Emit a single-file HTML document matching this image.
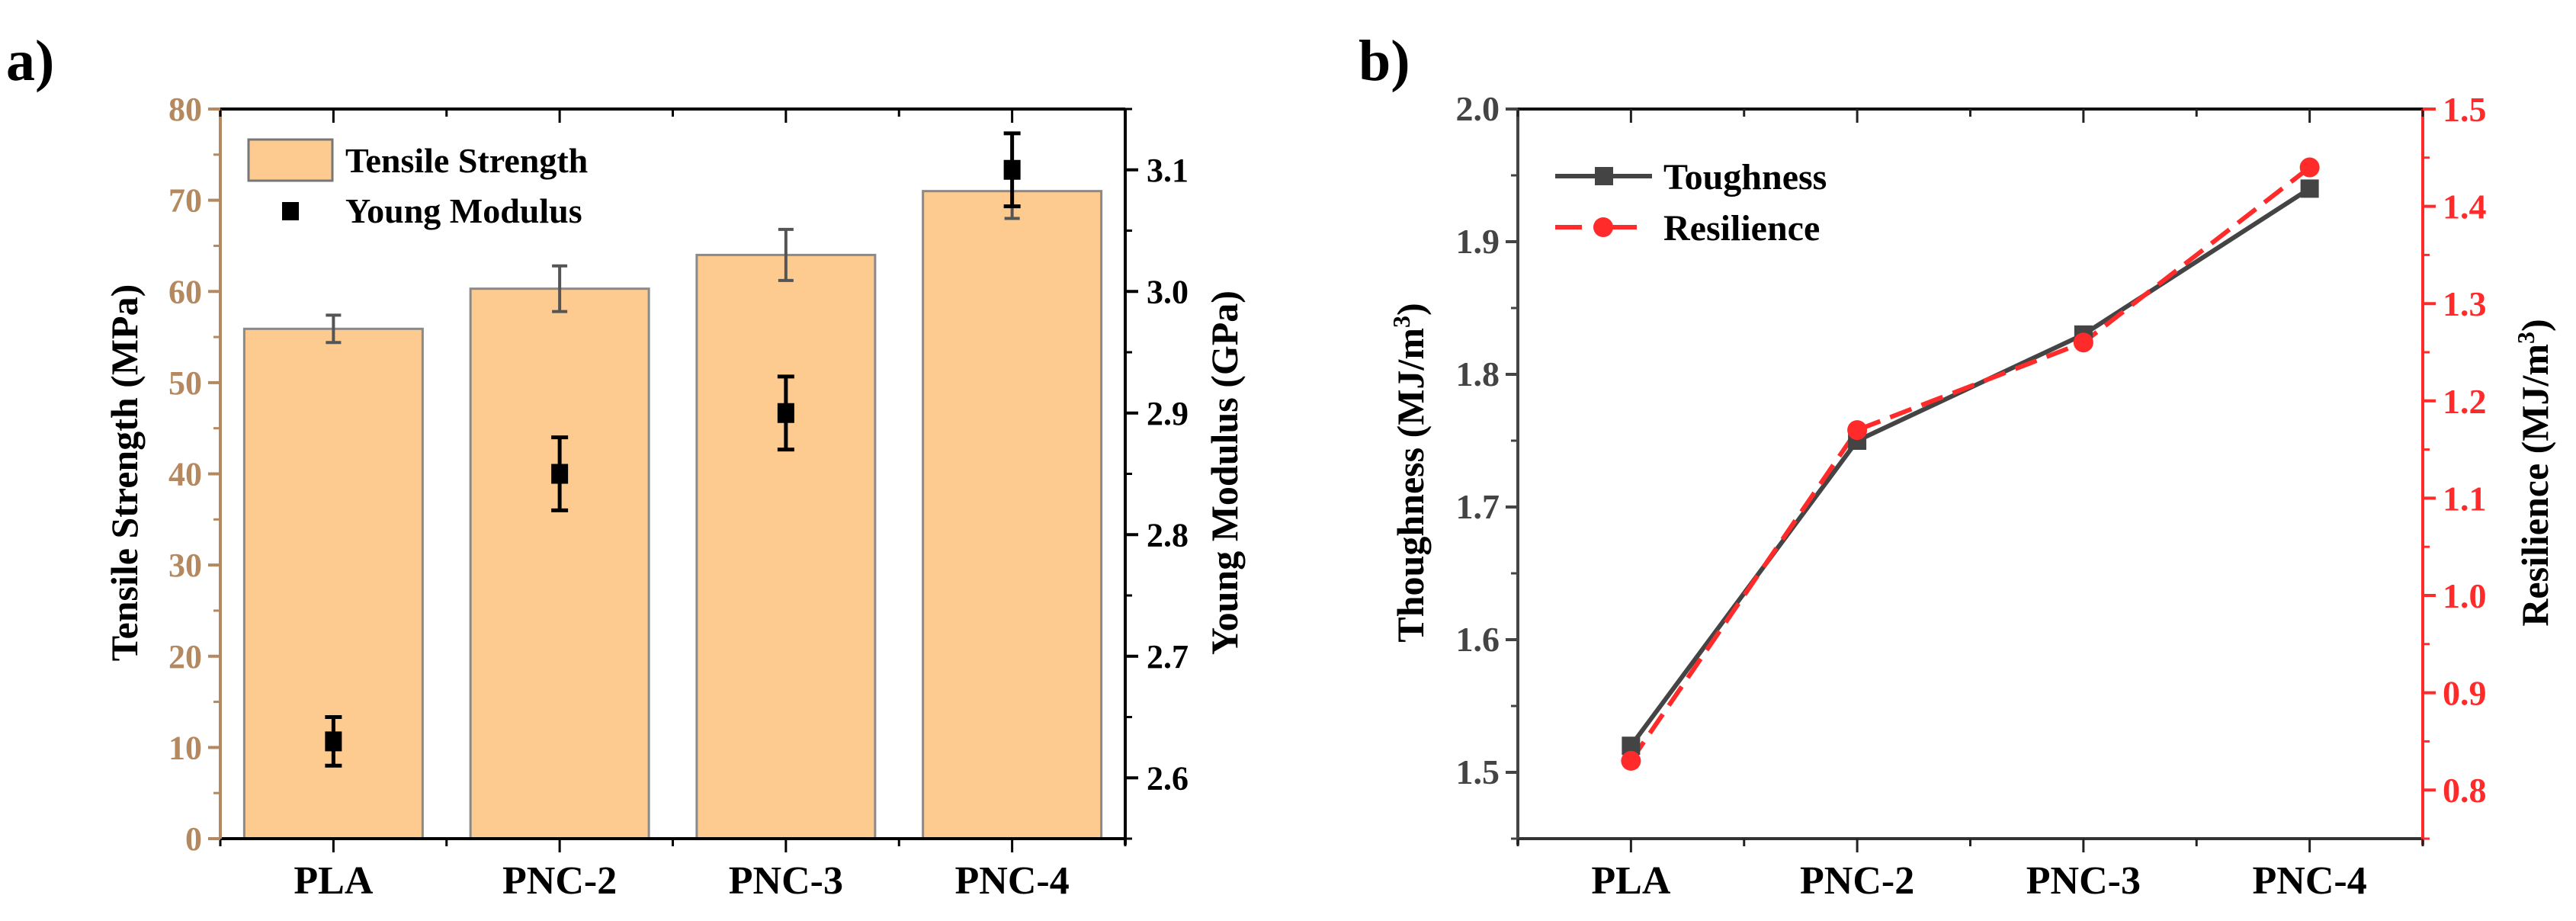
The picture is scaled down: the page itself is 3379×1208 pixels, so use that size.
<!DOCTYPE html>
<html><head><meta charset="utf-8"><style>
html,body{margin:0;padding:0;background:#fff;}
svg{display:block;}
svg text{font-family:"Liberation Serif","DejaVu Serif",serif;font-weight:bold;}
</style></head><body>
<svg id="fig" width="3379" height="1208" viewBox="0 0 3379 1208" xmlns="http://www.w3.org/2000/svg" font-family="'Liberation Serif', 'DejaVu Serif', serif" font-weight="bold">
<text x="8" y="105" font-size="76">a)</text>
<text x="1782" y="105" font-size="76">b)</text>
<g id="pa"></g>
<g id="pb"></g>
</svg>
<script>
const categories = ["PLA","PNC-2","PNC-3","PNC-4"];
const tensile = [55.9, 60.3, 64.0, 71.0];
const tensileErr = [1.5, 2.5, 2.8, 3.0];
const modulus = [2.63, 2.85, 2.90, 3.10];
const modulusErr = [0.02, 0.03, 0.03, 0.03];
const tensileTicks = [0,10,20,30,40,50,60,70,80];
const modulusTicks = ["2.6","2.7","2.8","2.9","3.0","3.1"];
const toughness = [1.52, 1.75, 1.83, 1.94];
const resilience = [0.83, 1.17, 1.26, 1.44];
const toughTicks = ["1.5","1.6","1.7","1.8","1.9","2.0"];
const resilTicks = ["0.8","0.9","1.0","1.1","1.2","1.3","1.4","1.5"];

const NS="http://www.w3.org/2000/svg";
function mk(parent,tag,attrs,text){const e=document.createElementNS(NS,tag);for(const k in attrs)e.setAttribute(k,attrs[k]);if(text!==undefined)e.textContent=text;parent.appendChild(e);return e;}

const TOP=143,BOT=1100;
// ---------- Panel A ----------
const pa=document.getElementById('pa');
const aL=289,aR=1476;
const ax=i=>aL+(i+0.5)*(aR-aL)/4;
const ayL=v=>BOT-(v-0)/80*(BOT-TOP);
const ayR=v=>BOT-(v-2.55)/0.6*(BOT-TOP);
const tan="#b5895f";
const bw=234;
categories.forEach((c,i)=>{
  const r=mk(pa,'rect',{x:ax(i)-bw/2,y:ayL(tensile[i]),width:bw,height:BOT-ayL(tensile[i]),fill:"#fdca90",stroke:"#8a8a8a","stroke-width":3});
  
  
  const g=mk(pa,'g',{stroke:"#555","stroke-width":4});
  
  
  const y1=ayL(tensile[i]-tensileErr[i]),y2=ayL(tensile[i]+tensileErr[i]);
  mk(g,'line',{x1:ax(i),x2:ax(i),y1:y1,y2:y2});
  mk(g,'line',{x1:ax(i)-10,x2:ax(i)+10,y1:y1,y2:y1});
  mk(g,'line',{x1:ax(i)-10,x2:ax(i)+10,y1:y2,y2:y2});
});
categories.forEach((c,i)=>{
  const g=mk(pa,'g',{stroke:"#000","stroke-width":5});
  
  
  const y1=ayR(modulus[i]-modulusErr[i]),y2=ayR(modulus[i]+modulusErr[i]);
  mk(g,'line',{x1:ax(i),x2:ax(i),y1:y1,y2:y2});
  mk(g,'line',{x1:ax(i)-11,x2:ax(i)+11,y1:y1,y2:y1});
  mk(g,'line',{x1:ax(i)-11,x2:ax(i)+11,y1:y2,y2:y2});
  const s=mk(pa,'rect',{x:ax(i)-11,y:ayR(modulus[i])-13,width:22,height:26,fill:"#000"});
  
  
});
// axes A
mk(pa,'line',{x1:aL,x2:aR,y1:TOP,y2:TOP,stroke:"#000","stroke-width":4});
mk(pa,'line',{x1:aL,x2:aR,y1:BOT,y2:BOT,stroke:"#000","stroke-width":4});
mk(pa,'line',{x1:aR,x2:aR,y1:TOP,y2:BOT+8,stroke:"#000","stroke-width":4});
mk(pa,'line',{x1:aL,x2:aL,y1:TOP,y2:BOT,stroke:tan,"stroke-width":4});
for(let k=0;k<=8;k++){const x=aL+k*(aR-aL)/8;const maj=k%2===1;
  mk(pa,'line',{x1:x,x2:x,y1:BOT,y2:BOT+(maj?18:10),stroke:"#000","stroke-width":3});
  mk(pa,'line',{x1:x,x2:x,y1:TOP,y2:TOP+(maj?18:10),stroke:"#000","stroke-width":3});}
tensileTicks.forEach((v,i)=>{const y=ayL(v);
  mk(pa,'line',{x1:aL-16,x2:aL,y1:y,y2:y,stroke:tan,"stroke-width":4});
  if(i<tensileTicks.length-1)mk(pa,'line',{x1:aL-9,x2:aL,y1:ayL(v+5),y2:ayL(v+5),stroke:tan,"stroke-width":3});
  const t=mk(pa,'text',{x:aL-24,y:y+15,"font-size":44,fill:tan,"text-anchor":"end"},String(v));
  
  
});
modulusTicks.forEach(s=>{const v=parseFloat(s),y=ayR(v);
  mk(pa,'line',{x1:aR,x2:aR+17,y1:y,y2:y,stroke:"#000","stroke-width":4});
  mk(pa,'line',{x1:aR,x2:aR+9,y1:ayR(v-0.05),y2:ayR(v-0.05),stroke:"#000","stroke-width":3});
  const t=mk(pa,'text',{x:aR+28,y:y+15,"font-size":44,fill:"#000"},s);
  
  
});
mk(pa,'line',{x1:aR,x2:aR+9,y1:ayR(3.15),y2:ayR(3.15),stroke:"#000","stroke-width":3});
categories.forEach((c,i)=>{const t=mk(pa,'text',{x:ax(i),y:1172,"font-size":52,"text-anchor":"middle"},c);
  
  });
let t;
t=mk(pa,'text',{x:0,y:0,"font-size":50,"text-anchor":"middle",transform:"translate(180,620) rotate(-90)"},"Tensile Strength (MPa)");

t=mk(pa,'text',{x:0,y:0,"font-size":50,"text-anchor":"middle",transform:"translate(1623,620) rotate(-90)"},"Young Modulus (GPa)");

// legend A
const la=mk(pa,'g',{});

mk(la,'rect',{x:326,y:183,width:110,height:54,fill:"#fdca90",stroke:"#777","stroke-width":3});
mk(la,'text',{x:453,y:226,"font-size":46},"Tensile Strength");
mk(la,'rect',{x:370,y:265,width:22,height:24,fill:"#000"});
mk(la,'text',{x:453,y:292,"font-size":46},"Young Modulus");

// ---------- Panel B ----------
const pb=document.getElementById('pb');
const bL=1991,bR=3178;
const bx=i=>bL+(i+0.5)*(bR-bL)/4;
const byL=v=>BOT-(v-1.45)/0.55*(BOT-TOP);
const byR=v=>BOT-(v-0.75)/0.75*(BOT-TOP);
const red="#ff2a2a";
mk(pb,'line',{x1:bL,x2:bR,y1:TOP,y2:TOP,stroke:"#111","stroke-width":4});
mk(pb,'line',{x1:bL,x2:bR,y1:BOT,y2:BOT,stroke:"#333","stroke-width":4});
mk(pb,'line',{x1:bL,x2:bL,y1:TOP,y2:BOT+8,stroke:"#444","stroke-width":4});
mk(pb,'line',{x1:bR,x2:bR,y1:TOP,y2:BOT+8,stroke:red,"stroke-width":4});
for(let k=0;k<=8;k++){const x=bL+k*(bR-bL)/8;const maj=k%2===1;
  mk(pb,'line',{x1:x,x2:x,y1:BOT,y2:BOT+(maj?18:10),stroke:"#222","stroke-width":3});
  mk(pb,'line',{x1:x,x2:x,y1:TOP,y2:TOP+(maj?18:10),stroke:"#222","stroke-width":3});}
toughTicks.forEach(s=>{const v=parseFloat(s),y=byL(v);
  mk(pb,'line',{x1:bL-16,x2:bL,y1:y,y2:y,stroke:"#444","stroke-width":4});
  mk(pb,'line',{x1:bL-9,x2:bL,y1:byL(v-0.05),y2:byL(v-0.05),stroke:"#444","stroke-width":3});
  const t=mk(pb,'text',{x:bL-24,y:y+15,"font-size":46,fill:"#444","text-anchor":"end"},s);
  });
resilTicks.forEach(s=>{const v=parseFloat(s),y=byR(v);
  mk(pb,'line',{x1:bR,x2:bR+17,y1:y,y2:y,stroke:red,"stroke-width":4});
  mk(pb,'line',{x1:bR,x2:bR+9,y1:byR(v-0.05),y2:byR(v-0.05),stroke:red,"stroke-width":3});
  const t=mk(pb,'text',{x:bR+26,y:y+16,"font-size":46,fill:red},s);
  });
categories.forEach((c,i)=>{const t=mk(pb,'text',{x:bx(i),y:1172,"font-size":52,"text-anchor":"middle"},c);
  });
t=mk(pb,'text',{x:0,y:0,"font-size":50,"text-anchor":"middle",transform:"translate(1867,620) rotate(-90)"});

t.innerHTML='Thoughness (MJ/m<tspan dy="-18" font-size="32">3</tspan><tspan dy="18">)</tspan>';
t=mk(pb,'text',{x:0,y:0,"font-size":50,"text-anchor":"middle",transform:"translate(3342,620) rotate(-90)"});

t.innerHTML='Resilience (MJ/m<tspan dy="-18" font-size="32">3</tspan><tspan dy="18">)</tspan>';
// series
const tl=mk(pb,'polyline',{points:toughness.map((v,i)=>bx(i)+','+byL(v)).join(' '),fill:"none",stroke:"#444","stroke-width":6});

const rl=mk(pb,'polyline',{points:resilience.map((v,i)=>bx(i)+','+byR(v)).join(' '),fill:"none",stroke:red,"stroke-width":6,"stroke-dasharray":"30 14"});

toughness.forEach((v,i)=>{const s=mk(pb,'rect',{x:bx(i)-12,y:byL(v)-12,width:24,height:24,fill:"#444"});
  });
resilience.forEach((v,i)=>{const s=mk(pb,'circle',{cx:bx(i),cy:byR(v),r:13,fill:red});
  });
// legend B
const lb=mk(pb,'g',{});

mk(lb,'line',{x1:2040,x2:2167,y1:231,y2:231,stroke:"#444","stroke-width":6});
mk(lb,'rect',{x:2092,y:219,width:24,height:24,fill:"#444"});
mk(lb,'text',{x:2182,y:248,"font-size":48},"Toughness");
mk(lb,'line',{x1:2040,x2:2075,y1:298,y2:298,stroke:red,"stroke-width":6});
mk(lb,'line',{x1:2115,x2:2147,y1:298,y2:298,stroke:red,"stroke-width":6});
mk(lb,'circle',{cx:2103,cy:298,r:13,fill:red});
mk(lb,'text',{x:2182,y:315,"font-size":48},"Resilience");
</script>
</body></html>
